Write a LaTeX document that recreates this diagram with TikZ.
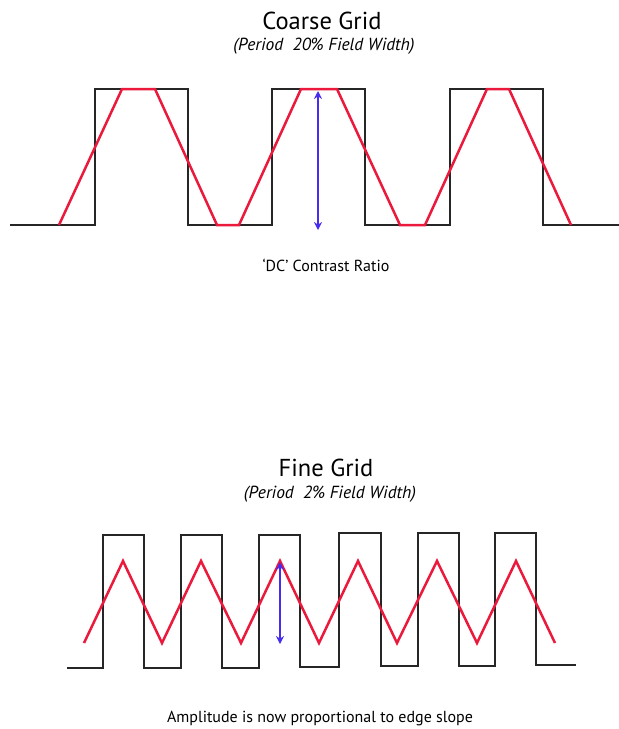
\documentclass[tikz,border=0pt]{standalone}
\usepackage{fontspec}
\setmainfont{PT Sans}
\usetikzlibrary{arrows.meta}
\definecolor{wavered}{RGB}{235,25,60}
\definecolor{arrowblue}{RGB}{70,45,240}
\begin{document}
\begin{tikzpicture}[x=1pt,y=-1pt,
  square/.style={black!85, line width=1.1pt},
  ramp/.style={wavered, line width=2.5pt, line join=miter},
  measure/.style={arrowblue, line width=1.2pt, {Stealth[length=8pt,width=8pt]}-{Stealth[length=8pt,width=8pt]}},
  titletext/.style={inner sep=0pt, font=\fontsize{24.5}{26}\selectfont},
  subtext/.style={inner sep=0pt, font=\fontsize{17.5}{19}\selectfont\itshape},
  captext/.style={inner sep=0pt, font=\fontsize{16}{18}\selectfont}]
\useasboundingbox (0,0) rectangle (619,729);

% ---------- Coarse grid ----------
\node[titletext] (ct) at (322,21) {Coarse Grid};
\node[subtext] (cs) at (324,46) {(Period\ \ 20\% Field Width)};
\draw[square] (10,225) -| (95,89) -| (188,225) -| (272,89) -| (365,225) -| (450,89) -| (543,225) -- (619,225);
\draw[ramp] (59,225) -- (122,89) -- (155,89) -- (217,225) -- (239,225) -- (301,89) -- (337,89)
  -- (400,225) -- (425,225) -- (487,89) -- (509,89) -- (571,225);
\coordinate (ca) at (318,91);
\coordinate (cb) at (318,230);
\draw[measure] (ca) -- (cb);
\node[captext] (cc) at (326,265) {`DC' Contrast Ratio};

% ---------- Fine grid ----------
\node[titletext] (ft) at (326,468) {Fine Grid};
\node[subtext] (fs) at (330,494) {(Period\ \ 2\% Field Width)};
\draw[square] (67,668) -| (103,535) -| (144,668) -| (181,535) -| (222,668) -| (259,535) -| (300,667)
  -| (339,533) -| (381,666) -| (418,533) -| (459,666) -| (495,533) -| (536,665) -- (576,665);
\draw[ramp] (84,643) -- (123,561) -- (162,643) -- (201,561) -- (241,643) -- (280,561) -- (319,643)
  -- (358,561) -- (397,643) -- (437,561) -- (477,643) -- (516,561) -- (555,643);
\coordinate (fa) at (280,562);
\coordinate (fb) at (280,644);
\draw[measure] (fa) -- (fb);
\node[captext] (fc) at (320,718) {Amplitude is now proportional to edge slope};
\end{tikzpicture}
\end{document}
